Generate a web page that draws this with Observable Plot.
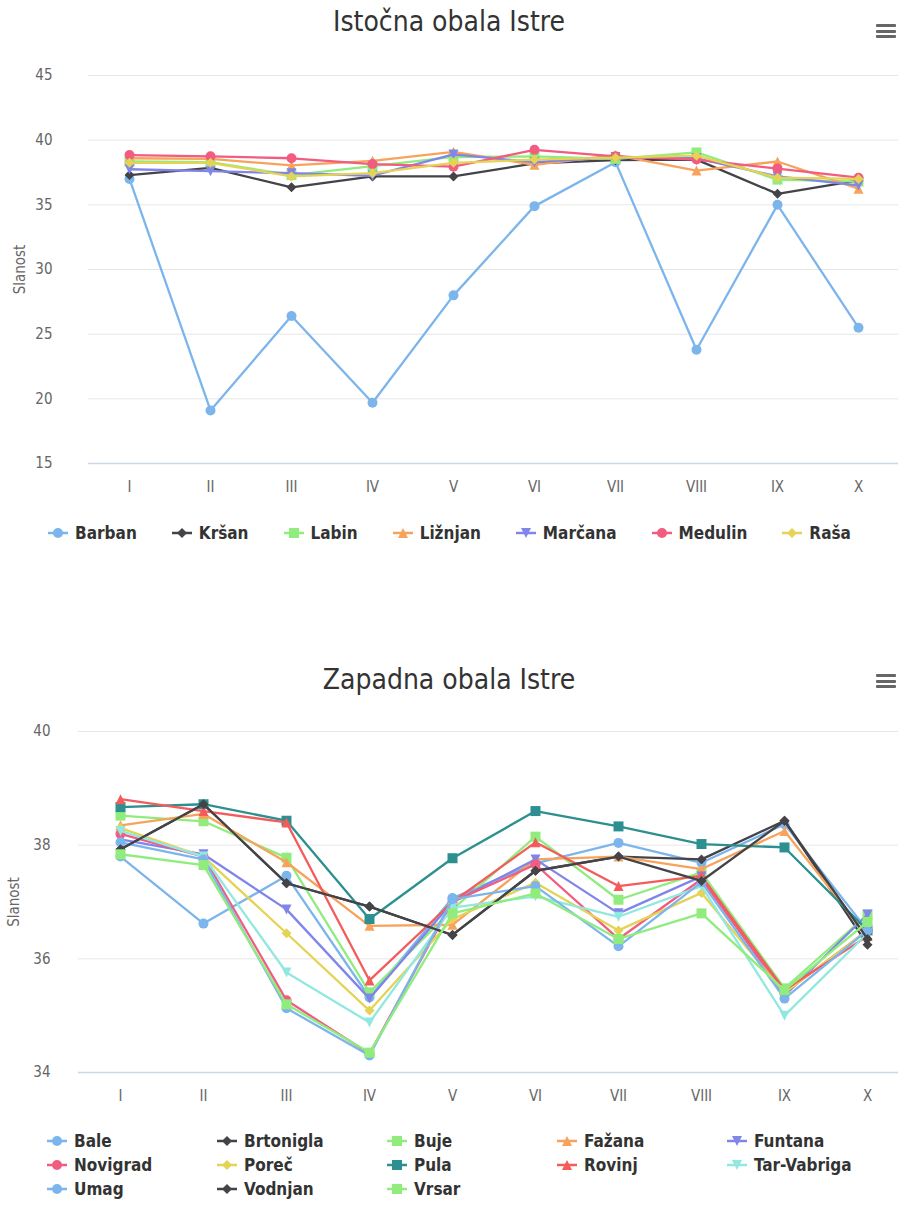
<!DOCTYPE html>
<html>
<head>
<meta charset="utf-8">
<script src="https://cdn.jsdelivr.net/npm/d3@7"></script>
<script src="https://cdn.jsdelivr.net/npm/@observablehq/plot@0.6"></script>
<style>
  body { margin:0; background:#fff; width:898px; height:1206px; position:relative; overflow:hidden;
    font-family:"DejaVu Sans Condensed","Liberation Sans Narrow","Roboto Condensed","DejaVu Sans",sans-serif; font-stretch:condensed; }
  .title { position:absolute; left:0; width:898px; text-align:center; font-size:28px; color:#333; line-height:32px; }
  .menu { position:absolute; width:20px; height:14px; }
  .menu div { height:3px; background:#666; margin-bottom:2.5px; border-radius:1px; }
  .chart { position:absolute; left:0; }
  .legend { position:absolute; font-weight:bold; font-size:17px; color:#333; }
  .legend .item { display:flex; align-items:center; white-space:nowrap; }
  .legend svg { margin-right:6px; }
  #leg1 { left:0; width:898px; display:flex; justify-content:center; gap:34px; top:523px; }
  #leg2 { left:46px; top:1131px; display:grid; grid-template-columns:repeat(5,170px); row-gap:4px; }
</style>
</head>
<body>
<div class="title" style="top:6px">Istočna obala Istre</div>
<div class="menu" style="left:876px;top:24px"><div></div><div></div><div></div></div>
<div class="chart" id="c1" style="top:45px"></div>
<div class="legend" id="leg1"></div>

<div class="title" style="top:664px">Zapadna obala Istre</div>
<div class="menu" style="left:876px;top:674px"><div></div><div></div><div></div></div>
<div class="chart" id="c2" style="top:700px"></div>
<div class="legend" id="leg2"></div>

<script>
// ---------- data ----------
const months = ["I","II","III","IV","V","VI","VII","VIII","IX","X"];

// Istočna obala Istre
const eastNames = ["Barban","Kršan","Labin","Ližnjan","Marčana","Medulin","Raša"];
const barban  = [37.0, 19.1, 26.4, 19.7, 28.0, 34.9, 38.3, 23.8, 35.0, 25.5];
const krsan   = [37.3, 37.85, 36.35, 37.2, 37.2, 38.2, 38.45, 38.5, 35.85, 36.9];
const labin   = [38.35, 38.3, 37.3, 38.0, 38.7, 38.75, 38.55, 39.05, 36.95, 36.8];
const liznjan = [38.6, 38.55, 38.05, 38.4, 39.1, 38.1, 38.85, 37.65, 38.35, 36.25];
const marcana = [37.75, 37.6, 37.45, 37.25, 38.9, 38.3, 38.7, 38.6, 37.2, 36.5];
const medulin = [38.85, 38.75, 38.6, 38.15, 37.95, 39.25, 38.75, 38.5, 37.8, 37.1];
const rasa    = [38.25, 38.25, 37.2, 37.45, 38.25, 38.5, 38.65, 38.8, 37.1, 37.0];
const eastSeries = [barban, krsan, labin, liznjan, marcana, medulin, rasa];
const eastTicks = [15, 20, 25, 30, 35, 40, 45];

// Zapadna obala Istre
const westNames = ["Bale","Brtonigla","Buje","Fažana","Funtana","Novigrad","Poreč","Pula","Rovinj","Tar-Vabriga","Umag","Vodnjan","Vrsar"];
const bale       = [37.8, 36.62, 37.46, 35.32, 37.07, 37.68, 38.04, 37.69, 38.37, 36.5];
const brtonigla  = [37.93, 38.72, 37.33, 36.92, 36.42, 37.55, 37.8, 37.75, 38.43, 36.25];
const buje       = [38.52, 38.42, 37.78, 35.41, 36.87, 38.15, 37.04, 37.52, 35.48, 36.78];
const fazana     = [38.35, 38.55, 37.7, 36.58, 36.6, 37.75, 37.8, 37.58, 38.25, 36.4];
const funtana    = [38.1, 37.84, 36.87, 35.3, 37.0, 37.75, 36.8, 37.45, 35.35, 36.78];
const novigrad   = [38.2, 37.8, 35.27, 34.33, 37.0, 37.66, 36.35, 37.4, 35.4, 36.5];
const porec      = [38.3, 37.8, 36.45, 35.09, 36.7, 37.34, 36.5, 37.16, 35.4, 36.5];
const pula       = [38.67, 38.72, 38.43, 36.7, 37.77, 38.6, 38.33, 38.02, 37.96, 36.5];
const rovinj     = [38.81, 38.6, 38.4, 35.62, 37.0, 38.05, 37.28, 37.46, 35.45, 36.4];
const tarVabriga = [38.25, 37.8, 35.76, 34.88, 36.9, 37.1, 36.74, 37.28, 35.0, 36.45];
const umag       = [38.05, 37.75, 35.13, 34.3, 37.05, 37.28, 36.22, 37.35, 35.3, 36.5];
const vodnjan    = [37.93, 38.72, 37.33, 36.92, 36.42, 37.55, 37.8, 37.37, 38.43, 36.35];
const vrsar      = [37.84, 37.65, 35.2, 34.35, 36.8, 37.15, 36.35, 36.8, 35.45, 36.65];
const westSeries = [bale, brtonigla, buje, fazana, funtana, novigrad, porec, pula, rovinj, tarVabriga, umag, vodnjan, vrsar];
const westTicks = [34, 36, 38, 40];

// palette / marker cycle
const palette = ["#7cb5ec","#434348","#90ed7d","#f7a35c","#8085e9","#f15c80","#e4d354","#2b908f","#f45b5b","#91e8e1"];
const symbolCycle = ["circle","diamond","square","triangle","triangle-down"];

// ---------- symbols ----------
function mk(kind) {
  return { draw(ctx, size) {
    const r = Math.sqrt(size / Math.PI);
    if (kind === "circle") { ctx.moveTo(r, 0); ctx.arc(0, 0, r, 0, 2 * Math.PI); }
    else if (kind === "square") { ctx.rect(-r, -r, 2 * r, 2 * r); }
    else if (kind === "diamond") { ctx.moveTo(0, -r); ctx.lineTo(r, 0); ctx.lineTo(0, r); ctx.lineTo(-r, 0); ctx.closePath(); }
    else if (kind === "triangle") { ctx.moveTo(0, -r); ctx.lineTo(r, r); ctx.lineTo(-r, r); ctx.closePath(); }
    else { ctx.moveTo(-r, -r); ctx.lineTo(r, -r); ctx.lineTo(0, r); ctx.closePath(); }
  }};
}
const symObjs = Object.fromEntries(symbolCycle.map(k => [k, mk(k)]));

function chart({names, series, ticks, height, marginLeft, marginTop, marginBottom, xRange, tickPad, labelOffset}) {
  const colors = names.map((_, i) => palette[i % palette.length]);
  const syms = names.map((_, i) => symObjs[symbolCycle[i % symbolCycle.length]]);
  const data = names.flatMap((n, i) => series[i].map((v, j) => ({name: n, month: months[j], value: v})));
  const perSeries = names.flatMap(n => [
    Plot.line(data, {filter: d => d.name === n, x: "month", y: "value", stroke: "name", strokeWidth: 2.3}),
    Plot.dot(data, {filter: d => d.name === n, x: "month", y: "value", fill: "name", symbol: "name", r: 5})
  ]);
  return Plot.plot({
    width: 898, height, marginLeft, marginRight: 0, marginTop, marginBottom,
    style: {fontFamily: "DejaVu Sans Condensed, Liberation Sans Narrow, Roboto Condensed, DejaVu Sans, sans-serif", fontSize: "15px", color: "#666", background: "white"},
    x: {type: "point", domain: months, range: xRange, padding: 0},
    y: {domain: [ticks[0], ticks[ticks.length - 1]]},
    color: {domain: names, range: colors},
    symbol: {domain: names, range: syms},
    marks: [
      Plot.gridY(ticks, {stroke: "#e6e6e6", strokeOpacity: 1, strokeWidth: 1}),
      Plot.ruleY([ticks[0]], {stroke: "#ccd6eb", strokeWidth: 1.5}),
      Plot.axisX({tickSize: 0, tickPadding: 18, label: null, fill: "#666"}),
      Plot.axisY(ticks, {tickSize: 0, tickPadding: tickPad, tickFormat: "d", label: "Slanost", labelAnchor: "center", labelArrow: "none", labelOffset, fill: "#666"}),
      ...perSeries
    ]
  });
}

document.getElementById("c1").append(chart({
  names: eastNames, series: eastSeries, ticks: eastTicks, height: 455,
  marginLeft: 88, marginTop: 30, marginBottom: 37, xRange: [125, 862], tickPad: 36, labelOffset: 74
}));
document.getElementById("c2").append(chart({
  names: westNames, series: westSeries, ticks: westTicks, height: 410,
  marginLeft: 78, marginTop: 31, marginBottom: 38, xRange: [118, 868], tickPad: 28, labelOffset: 70
}));

// ---------- legends ----------
function legend(el, names) {
  names.forEach((n, i) => {
    const color = palette[i % palette.length];
    const kind = symbolCycle[i % symbolCycle.length];
    const item = document.createElement("div");
    item.className = "item";
    const s = d3.create("svg").attr("width", 22).attr("height", 14);
    s.append("line").attr("x1", 1).attr("x2", 21).attr("y1", 7).attr("y2", 7).attr("stroke", color).attr("stroke-width", 2.5);
    s.append("path").attr("transform", "translate(11,7)").attr("fill", color)
      .attr("d", d3.symbol(symObjs[kind], Math.PI * 25)());
    item.append(s.node());
    const t = document.createElement("span"); t.textContent = n;
    item.append(t);
    el.append(item);
  });
}
legend(document.getElementById("leg1"), eastNames);
legend(document.getElementById("leg2"), westNames);
</script>
</body>
</html>
